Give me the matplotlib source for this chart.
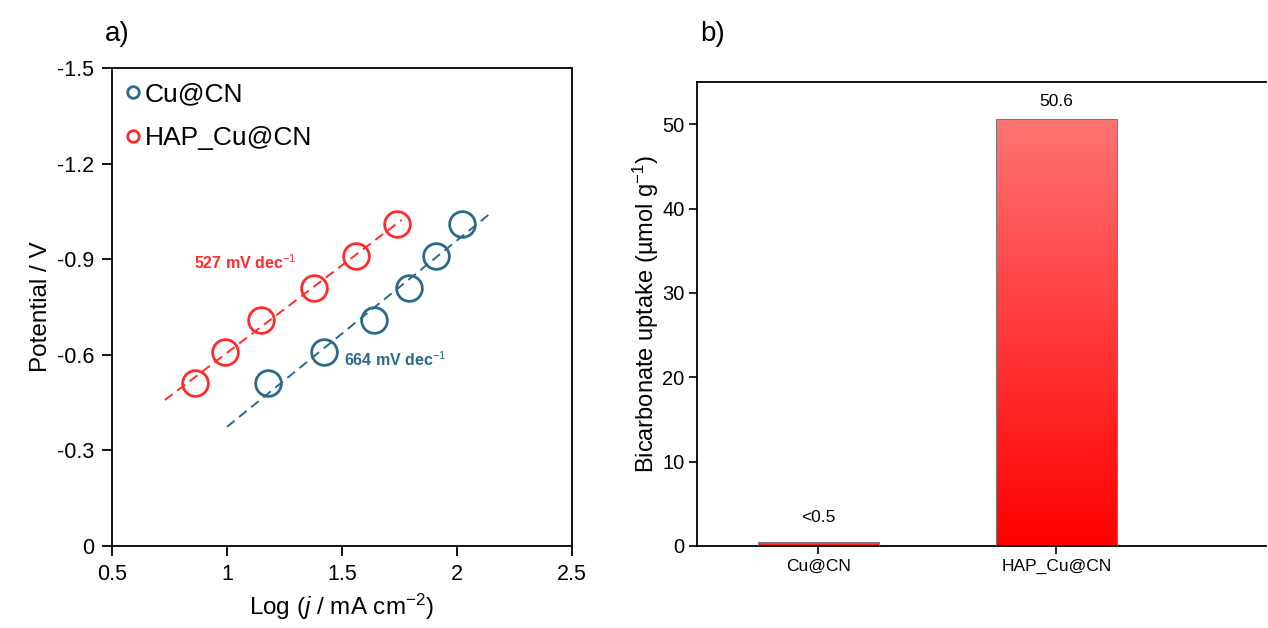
import numpy as np
import matplotlib
matplotlib.use("Agg")
import matplotlib.pyplot as plt
from matplotlib.colors import LinearSegmentedColormap
from matplotlib.patches import Rectangle

plt.rcParams["font.family"] = ["Liberation Sans", "DejaVu Sans"]
plt.rcParams["mathtext.fontset"] = "custom"
plt.rcParams["mathtext.rm"] = "Liberation Sans"
plt.rcParams["mathtext.it"] = "Liberation Sans:italic"
plt.rcParams["mathtext.bf"] = "Liberation Sans:bold"

# Tafel data: log current density vs potential
cu_log_j = [1.18, 1.42, 1.64, 1.79, 1.91, 2.02]
cu_potential = [-0.51, -0.61, -0.71, -0.81, -0.91, -1.01]
hap_log_j = [0.86, 0.99, 1.15, 1.38, 1.56, 1.74]
hap_potential = [-0.51, -0.61, -0.71, -0.81, -0.91, -1.01]
cu_fit_range = [1.0, 2.15]
hap_fit_range = [0.73, 1.76]
cu_slope_label = "664 mV dec$^{-1}$"
hap_slope_label = "527 mV dec$^{-1}$"

# Bicarbonate uptake
samples = ["Cu@CN", "HAP_Cu@CN"]
uptake = [0.5, 50.6]
uptake_labels = ["<0.5", "50.6"]

blue = "#2a6a8a"
red = "#ff2b2b"

fig = plt.figure(figsize=(12.68, 6.28), dpi=100)
ax1 = fig.add_axes([0.0883, 0.1306, 0.3628, 0.7611])
ax2 = fig.add_axes([0.5497, 0.1306, 0.4487, 0.7389])

# ---- panel a ----
for xs, ys, rng, col, name in [(cu_log_j, cu_potential, cu_fit_range, blue, "Cu@CN"),
                               (hap_log_j, hap_potential, hap_fit_range, red, "HAP_Cu@CN")]:
    k, b = np.polyfit(xs, ys, 1)
    xf = np.array(rng)
    ax1.plot(xf, k * xf + b, ls=(0, (5, 3)), color=col, lw=1.4, zorder=2)
    ax1.plot(xs, ys, ls="none", marker="o", ms=18.5, mfc="none", mec=col, mew=2.0,
             zorder=3, label=name)

ax1.text(1.08, -0.89, hap_slope_label, color=red, fontsize=11.5, fontweight="bold",
         ha="center", va="center")
ax1.text(1.51, -0.585, cu_slope_label, color=blue, fontsize=11.5, fontweight="bold",
         ha="left", va="center")

ax1.set_xlim(0.5, 2.5)
ax1.set_ylim(0, -1.5)
ax1.set_xticks([0.5, 1, 1.5, 2, 2.5])
ax1.set_xticklabels(["0.5", "1", "1.5", "2", "2.5"])
ax1.set_yticks([0, -0.3, -0.6, -0.9, -1.2, -1.5])
ax1.set_yticklabels(["0", "-0.3", "-0.6", "-0.9", "-1.2", "-1.5"])
ax1.tick_params(direction="out", length=7, width=1.3, labelsize=15.5, pad=6)
for s in ax1.spines.values():
    s.set_linewidth(1.3)
ax1.set_xlabel(r"Log ($\mathit{j}$ / mA cm$^{-2}$)", fontsize=17.5, labelpad=5)
ax1.set_ylabel("Potential / V", fontsize=17.5, labelpad=3)
leg = ax1.legend(loc="upper left", frameon=False, fontsize=19, markerscale=0.45,
                 handlelength=0.5, handletextpad=0.2, labelspacing=0.75,
                 borderaxespad=0.15, bbox_to_anchor=(0.0, 1.0))

fig.text(0.083, 0.935, "a)", fontsize=20)

# ---- panel b ----
cmap = LinearSegmentedColormap.from_list("barfade", ["#ff0000", "#ff7373"])
width = 0.51
xpos = np.arange(len(samples))
bars = ax2.bar(xpos, uptake, width=width, color="none", edgecolor="#7a7a7a",
               linewidth=0.8, zorder=3)
grad = np.linspace(0, 1, 256).reshape(-1, 1)
for bar in bars:
    x0, h = bar.get_x(), bar.get_height()
    im = ax2.imshow(grad, cmap=cmap, origin="lower", aspect="auto",
                    extent=[x0, x0 + width, 0, h], zorder=2)
    im.set_clip_path(Rectangle((x0, 0), width, h, transform=ax2.transData))
label_gap = [2.0, 1.2]
for x, v, lab, gap in zip(xpos, uptake, uptake_labels, label_gap):
    ax2.text(x, v + gap, lab, ha="center", va="bottom", fontsize=12.5)

ax2.set_xlim(-0.51, 1.88)
ax2.set_ylim(0, 55)
ax2.set_xticks(xpos)
ax2.set_xticklabels(samples)
ax2.set_yticks([0, 10, 20, 30, 40, 50])
ax2.tick_params(direction="out", length=6, width=1.2, pad=3)
ax2.tick_params(axis="y", labelsize=14.5)
ax2.tick_params(axis="x", labelsize=12.5)
ax2.spines["right"].set_visible(False)
for s in ["left", "top", "bottom"]:
    ax2.spines[s].set_linewidth(1.3)
ax2.set_ylabel("Bicarbonate uptake (\u00b5mol g$^{-1}$)", fontsize=17, labelpad=1)

fig.text(0.552, 0.935, "b)", fontsize=20)

fig.savefig("out.png", dpi=100, facecolor="white")
